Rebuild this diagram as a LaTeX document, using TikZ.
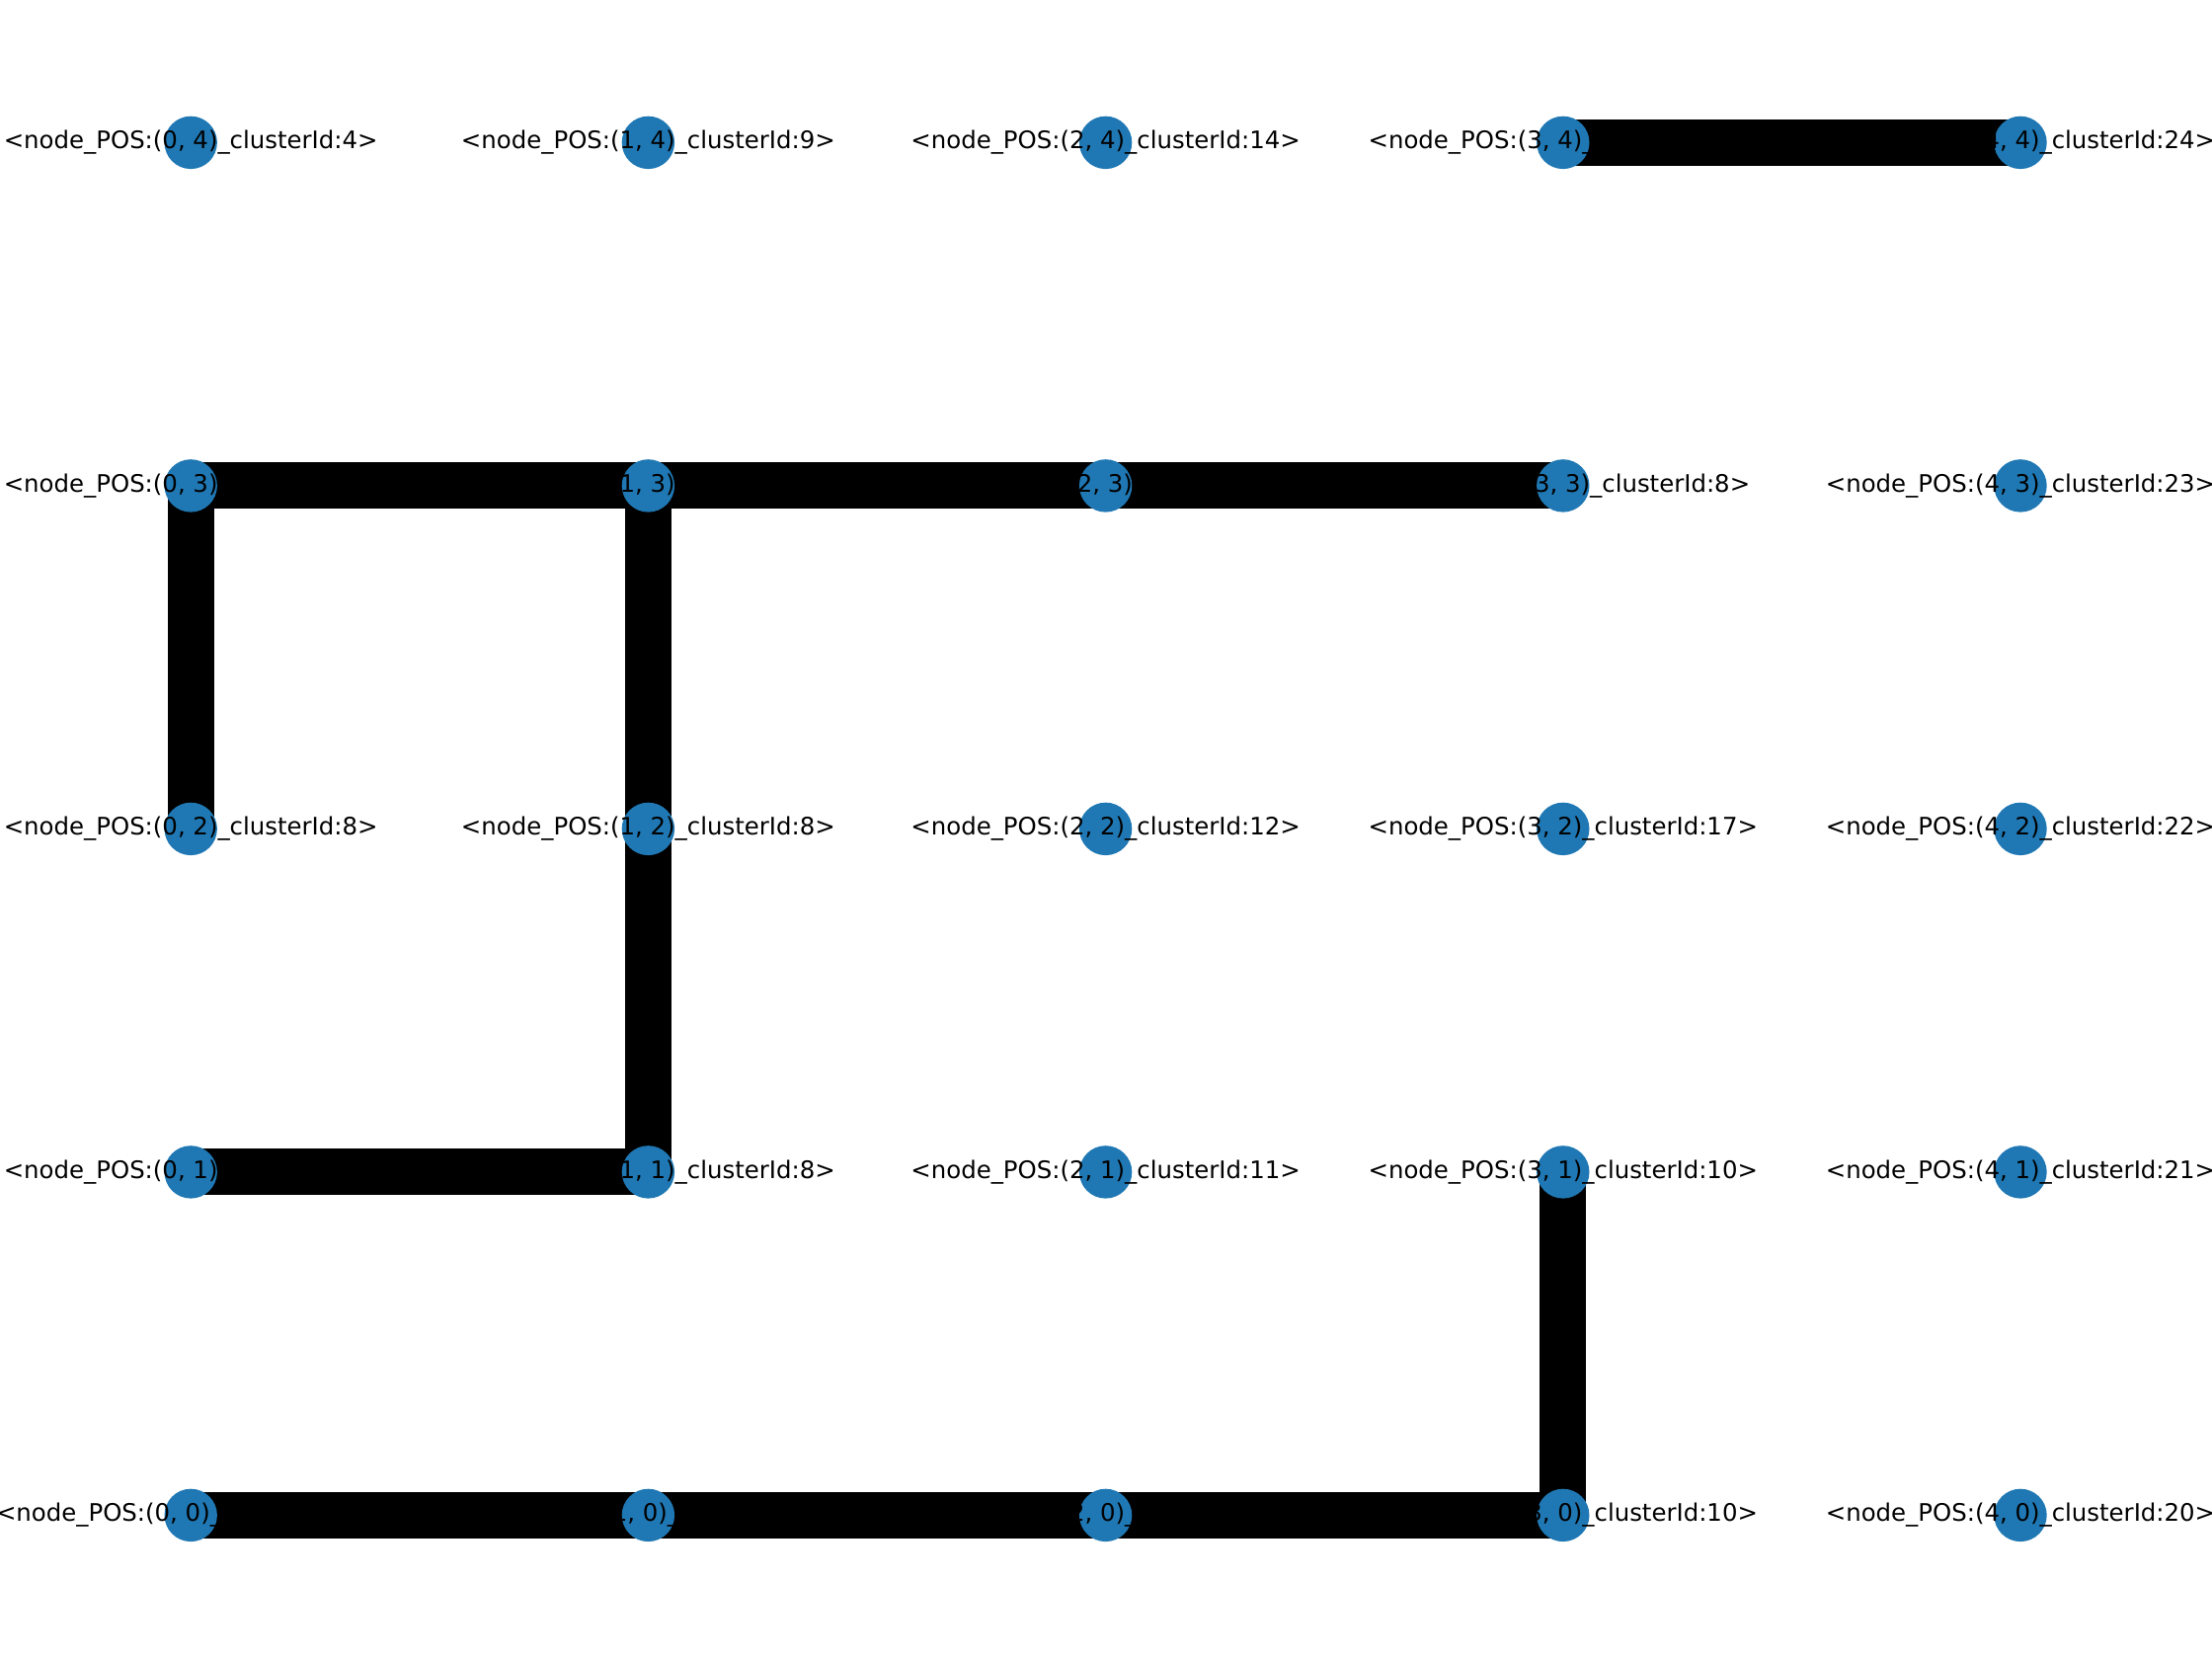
\documentclass[tikz,border=0pt]{standalone}
\usepackage{fontspec}
\setmainfont{DejaVu Sans}
\pgfdeclarelayer{bg}
\pgfsetlayers{bg,main}
\definecolor{nxblue}{HTML}{1F78B4}
\begin{document}
\begin{tikzpicture}[x=0.5pt,y=-0.5pt,
  vtx/.style={circle,fill=nxblue,minimum size=26.7pt,inner sep=0pt},
  lbl/.style={font=\fontsize{12.2}{14.5}\selectfont,inner sep=0pt,text=black},
  link/.style={line width=23.5pt,draw=black}]
\useasboundingbox (0,0) rectangle (2240,1680);
\foreach \i in {0,...,4}{
  \foreach \j in {0,...,4}{
    \node[vtx] (n-\i-\j) at ({193.2+463.2*\i},{1534.4-347.5*\j}) {};
  }
}
\begin{pgfonlayer}{bg}
\fill[white] (0,0) rectangle (2240,1680);
\foreach \a/\b in {3-4/4-4, 0-3/1-3, 1-3/2-3, 2-3/3-3, 0-3/0-2, 1-3/1-2, 1-2/1-1, 0-1/1-1, 3-1/3-0, 0-0/1-0, 1-0/2-0, 2-0/3-0}{
  \draw[link] (n-\a.center) -- (n-\b.center);
}
\end{pgfonlayer}
\foreach \i/\j/\c in {0/4/4, 1/4/9, 2/4/14, 3/4/24, 4/4/24,
  0/3/8, 1/3/8, 2/3/8, 3/3/8, 4/3/23,
  0/2/8, 1/2/8, 2/2/12, 3/2/17, 4/2/22,
  0/1/8, 1/1/8, 2/1/11, 3/1/10, 4/1/21,
  0/0/10, 1/0/10, 2/0/10, 3/0/10, 4/0/20}{
  \node[lbl] (l-\i-\j) at (n-\i-\j.center) {<node\_POS:(\i, \j)\_clusterId:\c>};
}
\end{tikzpicture}
\end{document}
